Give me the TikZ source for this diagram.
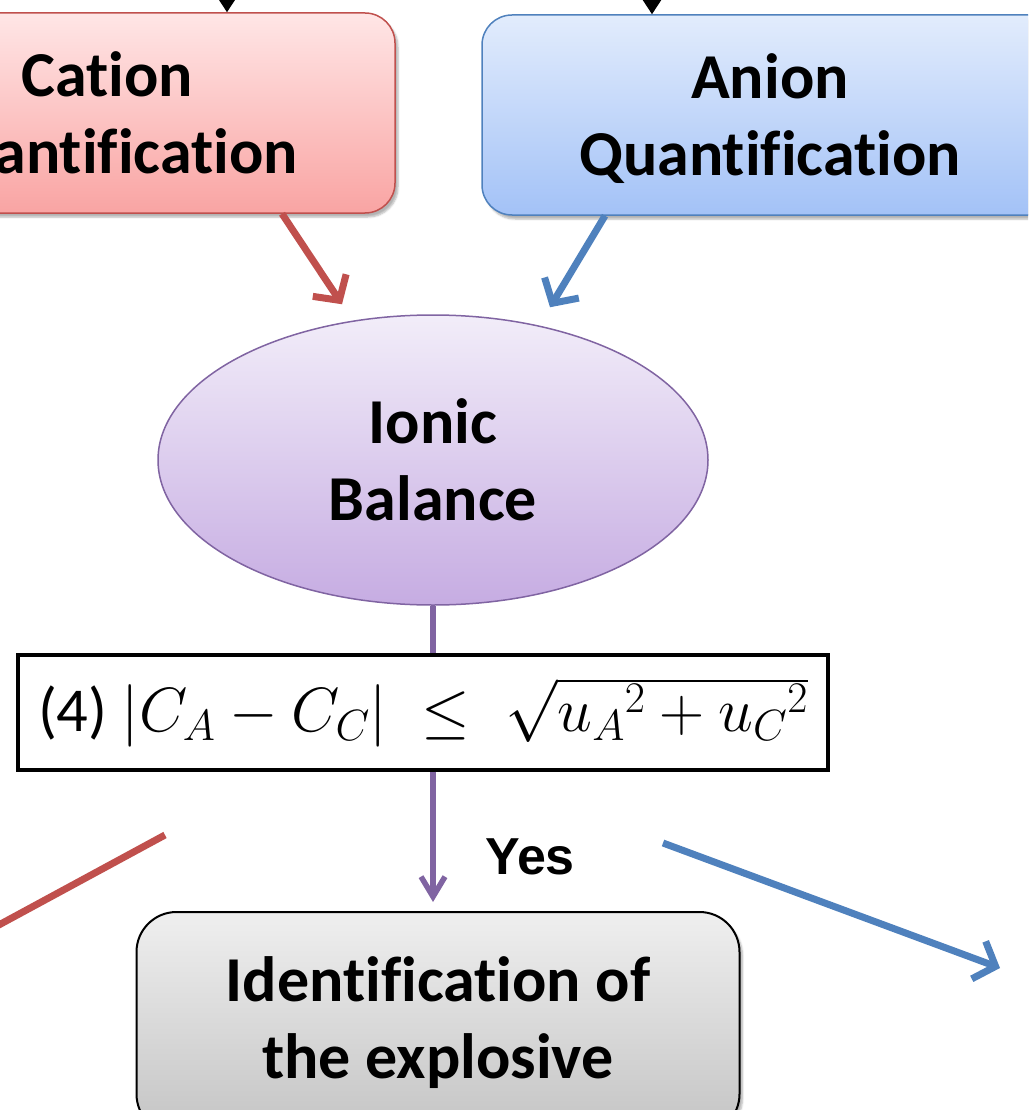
\RequirePackage{fix-cm}
\documentclass[tikz,border=0pt]{standalone}
\usepackage{fontspec}
\setmainfont[Ligatures={NoCommon}]{Carlito}
\newfontfamily\yesfont{Liberation Sans}
\usepackage{xcolor}
\definecolor{catTop}{HTML}{FFE6E6}
\definecolor{catBot}{HTML}{F9A4A3}
\definecolor{catBd}{HTML}{C0504D}
\definecolor{anTop}{HTML}{E2ECFC}
\definecolor{anBot}{HTML}{A3C2F7}
\definecolor{anBd}{HTML}{4F81BD}
\definecolor{balTop}{HTML}{F2EDF9}
\definecolor{balBot}{HTML}{C6ACE2}
\definecolor{balBd}{HTML}{8064A2}
\definecolor{idTop}{HTML}{EFEFEF}
\definecolor{idBot}{HTML}{C4C4C4}
\usetikzlibrary{shapes.geometric, arrows.meta, positioning, calc, shadows.blur}

\begin{document}
\begin{tikzpicture}[
        x=1pt, y=-1pt,
        font=\bfseries\fontsize{64}{77}\selectfont,
        quant_box/.style={
            rectangle,
            rounded corners=30pt,
            line width=1.5pt,
            align=center,
            minimum width=576pt,
            minimum height=200pt,
            blur shadow={shadow xshift=3pt, shadow yshift=-4pt, shadow blur steps=5, shadow opacity=30}
        },
        balance_node/.style={
            ellipse,
            draw=balBd,
            line width=1.5pt,
            top color=balTop,
            bottom color=balBot,
            align=center,
            minimum width=550pt,
            minimum height=290pt,
            inner sep=0pt
        },
        eq_box/.style={
            rectangle,
            draw=black,
            line width=4pt,
            fill=white,
            minimum width=810pt,
            minimum height=115pt,
            inner sep=0pt,
            font=\mdseries\fontsize{62.5}{62.5}\selectfont
        },
        result_box/.style={
            rectangle,
            rounded corners=40pt,
            draw=black,
            line width=2pt,
            top color=idTop,
            bottom color=idBot,
            align=center,
            minimum width=603pt,
            minimum height=222pt,
            blur shadow={shadow xshift=3pt, shadow yshift=-4pt, shadow blur steps=5, shadow opacity=30}
        },
        in_arrow/.style={
            -{Triangle[length=22pt, width=28pt]},
            draw=black,
            line width=3pt
        },
        arrow/.style={
            -{Straight Barb[length=18pt, width=40pt]},
            line width=7pt
        }
    ]

    \useasboundingbox (0,0) rectangle (1028,1110);
    \clip (0,0) rectangle (1028,1110);

    % Quantification boxes (top)
    \node[quant_box, draw=catBd, top color=catTop, bottom color=catBot, text depth=-6pt] (cation) at (107,113) {Cation\\Quantification};
    \node[quant_box, draw=anBd, top color=anTop, bottom color=anBot, text depth=-6pt] (anion) at (770,115) {Anion\\Quantification};

    % Inputs from above
    \coordinate (catIn) at (227,-80);
    \coordinate (anIn) at (652,-80);
    \draw[in_arrow] (catIn) -- (catIn |- cation.north);
    \draw[in_arrow] (anIn) -- (anIn |- anion.north);

    % Ionic balance
    \node[balance_node] (balance) at (433,460) {Ionic\\Balance};
    \draw[arrow, catBd] ([xshift=175pt]cation.south) -- ([xshift=-91pt, yshift=10pt]balance.north);
    \draw[arrow, anBd] ([xshift=-165pt]anion.south) -- ([xshift=117pt, yshift=7pt]balance.north);

    % Criterion
    \node[eq_box] (criterion) at (423,712) {(4) $|C_A - C_C| \;\leq\; \sqrt{{u_A}^2 + {u_C}^2}$};
    \draw[balBd, line width=5.5pt] (balance.south) -- (balance.south |- criterion.north);

    % Outcome
    \node[result_box] (explosive) at (438,1023) {Identification of\\the explosive};
    \draw[arrow, balBd, line width=5.5pt, -{Straight Barb[length=20pt, width=24pt]}] (criterion.south -| balance.south) -- ([xshift=-5pt, yshift=9pt]explosive.north);
    \node[font=\yesfont\bfseries\fontsize{52}{52}\selectfont] (yes) at (530,857) {Yes};

    % Side branches
    \coordinate (noStart) at (165,835);
    \coordinate (noEnd) at (-40,946);
    \coordinate (sideStart) at (663,843);
    \coordinate (sideEnd) at (1000,968);
    \draw[catBd, line width=7pt] (noStart) -- (noEnd);
    \draw[arrow, anBd] (sideStart) -- (sideEnd);

\end{tikzpicture}
\end{document}
